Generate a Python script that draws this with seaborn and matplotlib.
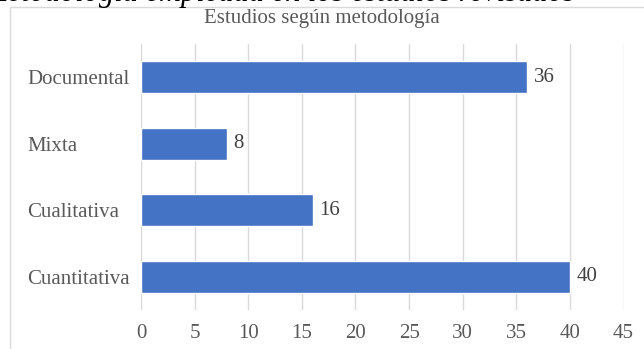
import matplotlib
matplotlib.use("Agg")
import matplotlib.pyplot as plt
import seaborn as sns
import pandas as pd
from matplotlib.patches import Rectangle

categories = ["Documental", "Mixta", "Cualitativa", "Cuantitativa"]
values = [36, 8, 16, 40]
xticks = [0, 5, 10, 15, 20, 25, 30, 35, 40, 45]
title = "Estudios según metodología"
caption = "Metodología empleada en los estudios revisados"

sns.set_theme(style="white")
plt.rcParams["font.family"] = ["Liberation Serif", "DejaVu Serif"]

W, H = 644, 349
fig = plt.figure(figsize=(W / 100, H / 100), dpi=100)
ax = fig.add_axes([141 / W, 1 - 310 / H, (623.6 - 141) / W, (310 - 44) / H])

df = pd.DataFrame({"cat": categories, "val": values})
sns.barplot(data=df, x="val", y="cat", orient="h", color="#4472C4",
            saturation=1, width=0.48, ax=ax, zorder=3)

ax.set_xlim(0, 45)
ax.set_ylim(3.5, -0.5)
ax.set_xticks(xticks)
ax.set_xticklabels([str(t) for t in xticks])
ax.set_xlabel("")
ax.set_ylabel("")
ax.grid(axis="x", color="#d9d9d9", linewidth=1, zorder=0)
ax.set_axisbelow(True)
for s in ax.spines.values():
    s.set_visible(False)
ax.tick_params(axis="both", length=0, labelsize=15, colors="#595959")
ax.tick_params(axis="x", pad=10)
ax.tick_params(axis="y", pad=82)
for lab in ax.get_yticklabels():
    lab.set_ha("left")

for c in ax.containers:
    ax.bar_label(c, labels=[str(v) for v in values], padding=5,
                 fontsize=15, color="#404040")

fig.text(0.5, 1 - 19 / H, title, ha="center", va="center",
         fontsize=15, color="#595959")

fig.add_artist(Rectangle((10 / W, -0.1), 1.0, (H - 7) / H + 0.1,
                         transform=fig.transFigure, fill=False,
                         edgecolor="#d9d9d9", linewidth=1))

fig.text(575 / W, 1 - 1 / H, caption, ha="right", va="baseline",
         fontsize=22, style="italic", color="black")

fig.savefig("out.png", dpi=100, facecolor="white")
